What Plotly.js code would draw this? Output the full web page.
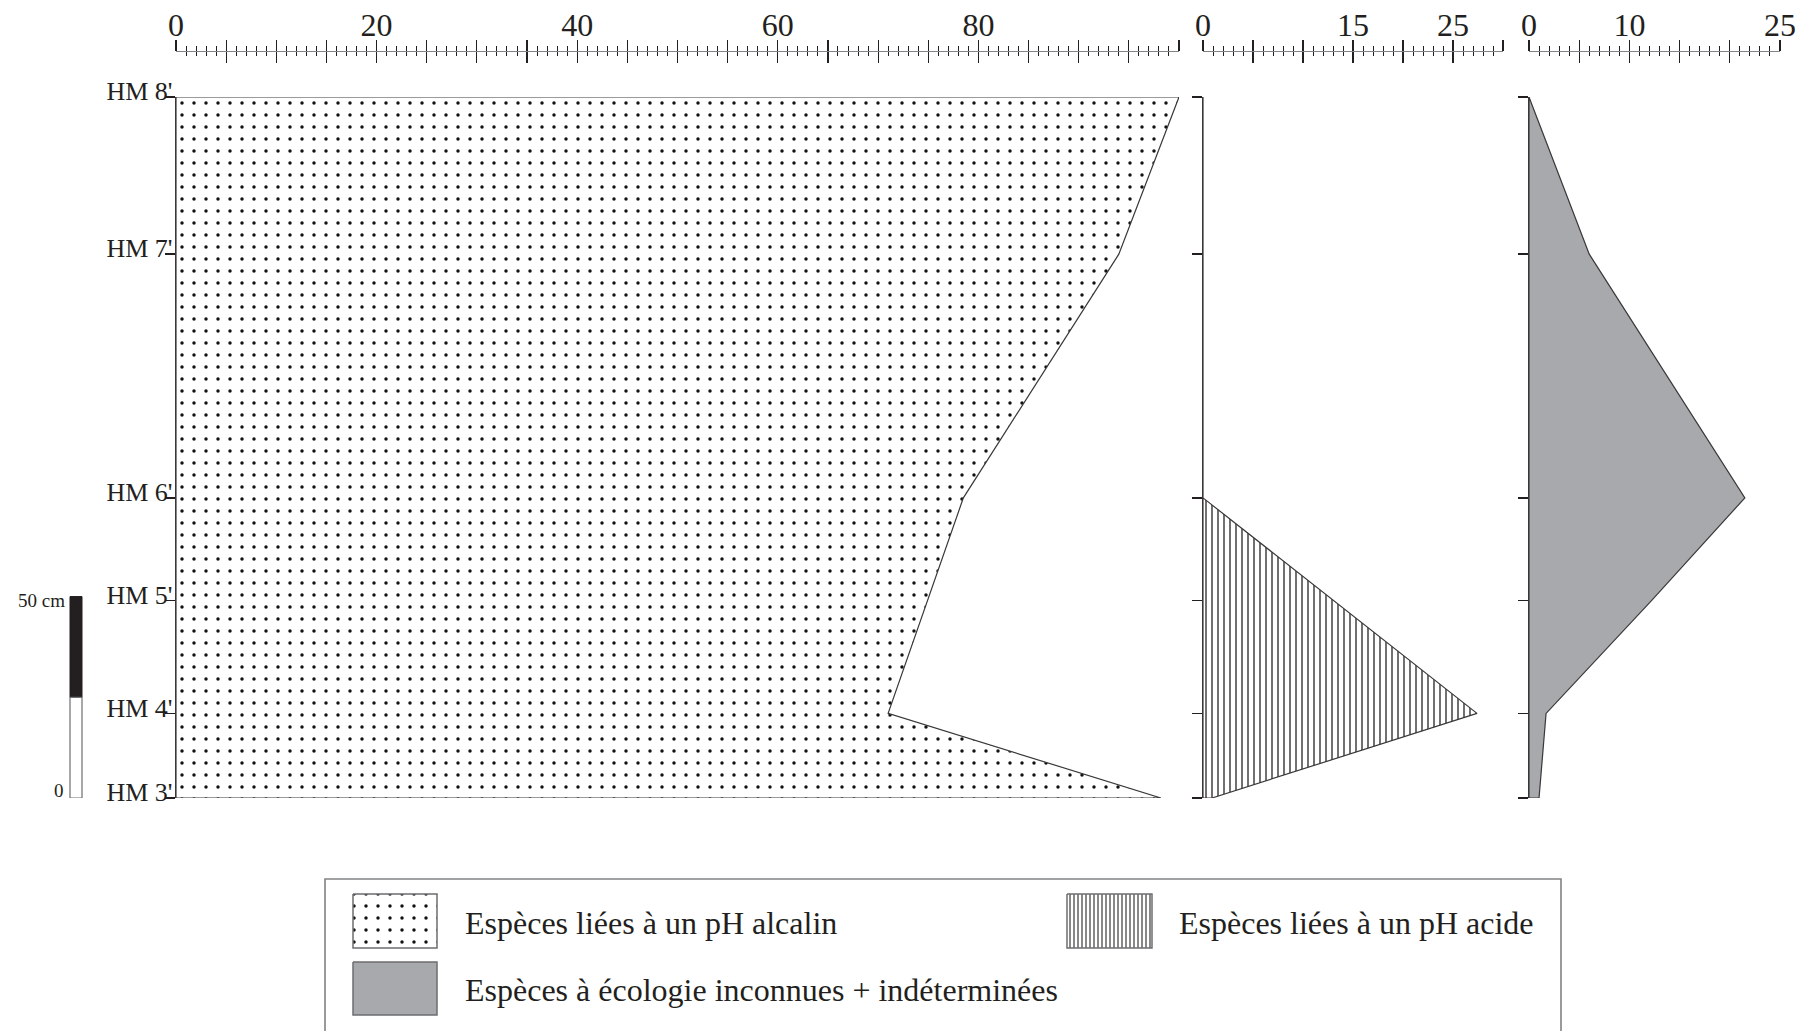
<!DOCTYPE html>
<html><head><meta charset="utf-8">
<script src="https://cdn.plot.ly/plotly-3.0.1.min.js"></script>
<style>html,body{margin:0;padding:0;background:#fff}#chart{width:1795px;height:1031px}</style>
</head><body><div id="chart"></div>
<script>
// ---------- data ----------
const levels = ["HM 3'", "HM 4'", "HM 5'", "HM 6'", "HM 7'", "HM 8'"];
const depthCm = [0, 21, 49, 74.5, 135, 174];
const alkalin = [98.2, 71.0, 74.9, 78.5, 94.0, 100];
const acide = [0.9, 27.4, 13.0, 0, 0, 0];
const inconnues = [1.0, 1.7, 12.2, 21.5, 6.0, 0];
const ticksAlkalin = [0, 20, 40, 60, 80];
const ticksAcide = [0, 15, 25];
const ticksInconnues = [0, 10, 25];
const axisMax = [100, 30, 25];
const legendLabels = ["Espèces liées à un pH alcalin", "Espèces liées à un pH acide", "Espèces à écologie inconnues + indéterminées"];
const scaleBarCm = [0, 25, 50];

// ---------- style ----------
const W = 1795, H = 1031;
const px = v => v / W, py = v => 1 - v / H;
const ink = '#231f20', grayLine = '#808285', fillGray = '#a7a9ac';
const serif = 'Liberation Serif, Times New Roman, serif';
const domains = [[px(176), px(1179)], [px(1203), px(1503)], [px(1529), px(1780)]];
const yDomain = [py(798), py(97)];
const topPos = py(50.7);

function majorTicks(max, labels) {
  const vals = [], text = [];
  for (let v = 0; v <= max; v += 5) { vals.push(v); text.push(labels.includes(v) ? String(v) : ''); }
  return {vals, text};
}
function closed(vals) {
  return {
    x: [0].concat(vals, [0, 0]),
    y: [depthCm[0]].concat(depthCm, [depthCm[depthCm.length - 1], depthCm[0]])
  };
}

const p1 = closed(alkalin), p2 = closed(acide), p3 = closed(inconnues);
const lineStyle = {color: '#3a3738', width: 1.2};
const traces = [
  {x: p1.x, y: p1.y, xaxis: 'x', yaxis: 'y', mode: 'lines', fill: 'toself', fillcolor: 'white',
   fillpattern: {shape: '.', fgcolor: '#111', bgcolor: 'white', size: 12, solidity: 0.065}, line: lineStyle, hoverinfo: 'skip'},
  {x: p2.x, y: p2.y, xaxis: 'x2', yaxis: 'y2', mode: 'lines', fill: 'toself', fillcolor: 'white',
   fillpattern: {shape: '|', fgcolor: '#111', bgcolor: 'white', size: 6, solidity: 0.2}, line: lineStyle, hoverinfo: 'skip'},
  {x: p3.x, y: p3.y, xaxis: 'x3', yaxis: 'y3', mode: 'lines', fill: 'toself', fillcolor: fillGray, line: lineStyle, hoverinfo: 'skip'},
  // empty traces to register overlay axes (inside half of crossing ticks)
  {x: [], y: [], xaxis: 'x4', yaxis: 'y', hoverinfo: 'skip'},
  {x: [], y: [], xaxis: 'x5', yaxis: 'y2', hoverinfo: 'skip'},
  {x: [], y: [], xaxis: 'x6', yaxis: 'y3', hoverinfo: 'skip'}
];

// legend swatches drawn on a hidden pixel-space axis pair
const swatches = [
  {x0: 353, x1: 437, y0: 894, y1: 948, pattern: {shape: '.', fgcolor: '#111', bgcolor: 'white', size: 12, solidity: 0.065}, fill: 'white'},
  {x0: 1067, x1: 1152, y0: 894, y1: 948, pattern: {shape: '|', fgcolor: '#111', bgcolor: 'white', size: 4, solidity: 0.25}, fill: 'white'},
  {x0: 353, x1: 437, y0: 962, y1: 1015, pattern: null, fill: fillGray}
];
swatches.forEach(s => {
  const t = {x: [s.x0, s.x1, s.x1, s.x0, s.x0], y: [s.y0, s.y0, s.y1, s.y1, s.y0], xaxis: 'x7', yaxis: 'y7',
    mode: 'lines', fill: 'toself', fillcolor: s.fill, line: {color: '#6d6e71', width: 1.5}, hoverinfo: 'skip'};
  if (s.pattern) t.fillpattern = s.pattern;
  traces.push(t);
});

const tickLabels = [ticksAlkalin, ticksAcide, ticksInconnues];
const layout = {
  width: W, height: H, margin: {l: 0, r: 0, t: 0, b: 0},
  paper_bgcolor: 'white', plot_bgcolor: 'rgba(0,0,0,0)', showlegend: false,
  font: {family: serif, color: ink}
};
['', '2', '3'].forEach((k, i) => {
  const mt = majorTicks(axisMax[i], tickLabels[i]);
  const common = {
    domain: domains[i], range: [0, axisMax[i]], anchor: 'free', position: topPos, side: 'top',
    tickmode: 'array', tickvals: mt.vals, ticklen: 11, tickwidth: 1.1, tickcolor: ink,
    showgrid: false, zeroline: false, fixedrange: true
  };
  layout['xaxis' + k] = Object.assign({}, common, {
    ticktext: mt.text, ticks: 'outside', showline: true, linecolor: grayLine, linewidth: 1.6,
    tickfont: {family: serif, size: 32, color: ink}, ticklabelstandoff: -9, ticklabeloverflow: 'allow',
    minor: {ticks: 'outside', ticklen: 4.5, tickwidth: 1, tickcolor: ink, tick0: 0, dtick: 1, showgrid: false}
  });
  layout['xaxis' + (4 + i)] = Object.assign({}, common, {
    overlaying: 'x' + k, ticks: 'inside', showticklabels: false, showline: false,
    minor: {ticks: 'inside', ticklen: 4.5, tickwidth: 1, tickcolor: ink, tick0: 0, dtick: 1, showgrid: false}
  });
  layout['yaxis' + k] = {
    domain: yDomain, range: [0, 174], anchor: 'x' + k, side: 'left',
    tickmode: 'array', tickvals: depthCm, ticktext: levels, showticklabels: i === 0,
    ticks: 'outside', ticklen: 10, tickwidth: 1.6, tickcolor: ink,
    showline: true, linecolor: '#3a3738', linewidth: 1.3,
    showgrid: false, zeroline: false, fixedrange: true,
    tickfont: {family: serif, size: 26, color: ink}, ticklabelshift: -6, ticklabelstandoff: -13
  };
});
layout.xaxis7 = {domain: [0, 1], range: [0, W], anchor: 'y7', visible: false, fixedrange: true};
layout.yaxis7 = {domain: [0, 1], range: [H, 0], anchor: 'x7', visible: false, fixedrange: true};

// scale bar + legend frame
layout.shapes = [
  {type: 'rect', xref: 'paper', yref: 'y', x0: px(70), x1: px(82), y0: scaleBarCm[1], y1: scaleBarCm[2],
   fillcolor: ink, line: {color: ink, width: 1}},
  {type: 'rect', xref: 'paper', yref: 'y', x0: px(70), x1: px(82), y0: scaleBarCm[0], y1: scaleBarCm[1],
   fillcolor: 'white', line: {color: '#6d6e71', width: 1.2}},
  {type: 'rect', xref: 'paper', yref: 'paper', x0: px(325), x1: px(1561), y0: py(1045), y1: py(879),
   fillcolor: 'rgba(0,0,0,0)', line: {color: grayLine, width: 1.6}}
];
layout.annotations = [
  {xref: 'paper', yref: 'y', x: px(67), y: scaleBarCm[2], text: scaleBarCm[2] + ' cm', showarrow: false,
   xanchor: 'right', yanchor: 'middle', font: {family: serif, size: 19, color: ink}, yshift: -4},
  {xref: 'paper', yref: 'y', x: px(66), y: scaleBarCm[0], text: String(scaleBarCm[0]), showarrow: false,
   xanchor: 'right', yanchor: 'middle', font: {family: serif, size: 19, color: ink}, yshift: 8},
  {xref: 'paper', yref: 'paper', x: px(463), y: py(923), text: legendLabels[0], showarrow: false,
   xanchor: 'left', yanchor: 'middle', font: {family: serif, size: 32, color: ink}},
  {xref: 'paper', yref: 'paper', x: px(1177), y: py(923), text: legendLabels[1], showarrow: false,
   xanchor: 'left', yanchor: 'middle', font: {family: serif, size: 32, color: ink}},
  {xref: 'paper', yref: 'paper', x: px(463), y: py(990), text: legendLabels[2], showarrow: false,
   xanchor: 'left', yanchor: 'middle', font: {family: serif, size: 32, color: ink}}
];

Plotly.newPlot('chart', traces, layout, {staticPlot: true, displayModeBar: false});
</script></body></html>
